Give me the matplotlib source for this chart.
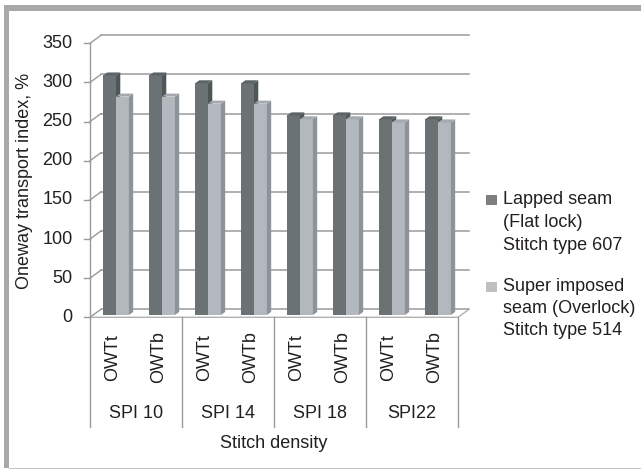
import matplotlib
matplotlib.use("Agg")
import matplotlib.pyplot as plt
from matplotlib.patches import Polygon, Rectangle
from matplotlib import transforms

plt.rcParams['font.family'] = ['Liberation Sans', 'DejaVu Sans']

# ---- data -------------------------------------------------------------
groups = ["SPI 10", "SPI 14", "SPI 18", "SPI22"]
sides = ["OWTt", "OWTb"]
lapped = [306, 306, 296, 296, 255, 255, 250, 250]          # Stitch type 607
superimposed = [279, 279, 270, 270, 250, 250, 246, 246]    # Stitch type 514
legend_labels = ["Lapped seam\n(Flat lock)\nStitch type 607",
                 "Super imposed\nseam (Overlock)\nStitch type 514"]
y_ticks = [0, 50, 100, 150, 200, 250, 300, 350]
y_label = "Oneway transport index, %"
x_label = "Stitch density"

# ---- styling ----------------------------------------------------------
TXT = '#231f20'
GRID = '#9a9a9a'
FS = 13
face = {
    'dark': ('#6b7274', '#4f5658', '#5c6365'),   # front, side, top
    'light': ('#b3b8bf', '#8e9399', '#a4a9af'),
}
legend_colors = ['#7f7f7f', '#bfbfbf']

W, H = 641, 470
fig = plt.figure(figsize=(W / 100, H / 100), dpi=100)
fig.patch.set_facecolor('white')

# front plane of the plot area, in pixels
AX_L, AX_R, AX_T, AX_B = 90, 458, 43.3, 317.3
ax = fig.add_axes([AX_L / W, 1 - AX_B / H, (AX_R - AX_L) / W, (AX_B - AX_T) / H])
n_cat = len(groups) * len(sides)
ax.set_xlim(0, n_cat)
ax.set_ylim(0, y_ticks[-1])
ax.axis('off')

px_x = (AX_R - AX_L) / n_cat
px_y = (AX_B - AX_T) / y_ticks[-1]


def dxu(px):
    return px / px_x


def dyu(px):
    return px / px_y


def fy(p):
    return 1 - p / H


BACK_X, BACK_Y = dxu(11), dyu(8)       # depth of the 3-D box
DEP_X, DEP_Y = dxu(4.3), dyu(3.0)      # depth of a column
LIFT = dyu(2.3)
BW = 0.28
X0 = 0.285

blend = transforms.blended_transform_factory(ax.transData, fig.transFigure)

# back wall gridlines and left wall diagonals
for v in y_ticks:
    ax.plot([BACK_X, n_cat + BACK_X], [v + BACK_Y, v + BACK_Y], color=GRID,
            lw=1.1, clip_on=False, zorder=1)
    ax.plot([0, BACK_X], [v, v + BACK_Y], color=GRID, lw=1.0, clip_on=False, zorder=1)
    ax.plot([-dxu(6.5), 0], [v, v], color=GRID, lw=1.0, clip_on=False, zorder=1)
    ax.text(-dxu(17.5), v, str(v), ha='right', va='center', fontsize=FS,
            color=TXT)
ax.plot([0, 0], [0, y_ticks[-1]], color=GRID, lw=1.0, clip_on=False, zorder=1)

# floor
ax.plot([0, n_cat, n_cat + BACK_X], [0, 0, BACK_Y], color='#b0b0b0', lw=1.0,
        clip_on=False, zorder=1)


def column(x, h, colors, z):
    fc, sc, tc = colors
    top = LIFT + h
    ax.bar(x, h, width=BW, bottom=LIFT, align='edge', color=fc, linewidth=0,
           zorder=z)
    side = [(x + BW, LIFT), (x + BW + DEP_X, LIFT + DEP_Y),
            (x + BW + DEP_X, top + DEP_Y), (x + BW, top)]
    cap = [(x, top), (x + DEP_X, top + DEP_Y), (x + BW + DEP_X, top + DEP_Y),
           (x + BW, top)]
    ax.add_patch(Polygon(side, closed=True, facecolor=sc, edgecolor='none',
                         zorder=z, clip_on=False))
    ax.add_patch(Polygon(cap, closed=True, facecolor=tc, edgecolor='none',
                         zorder=z, clip_on=False))


for i in range(n_cat):
    column(i + X0, lapped[i], face['dark'], 3 + 2 * i)
    column(i + X0 + BW, superimposed[i], face['light'], 4 + 2 * i)

# multi-level category axis
for g in range(len(groups) + 1):
    ax.plot([2 * g, 2 * g], [fy(AX_B), fy(427)], transform=blend, color=GRID,
            lw=1.0, clip_on=False)
for i in range(n_cat):
    ax.text(i + 0.5, fy(357.5), sides[i % 2], rotation=90, ha='center',
            va='center', transform=blend, fontsize=FS, color=TXT)
for g, name in enumerate(groups):
    ax.text(2 * g + 1, fy(414), name, ha='center', va='center', transform=blend,
            fontsize=FS, color=TXT)
ax.text(n_cat / 2, fy(443.5), x_label, ha='center', va='center', transform=blend,
        fontsize=FS, color=TXT)

fig.text(25 / W, fy(181), y_label, rotation=90, ha='center', va='center',
         fontsize=FS, color=TXT)

# legend
legend_rows = [(200, 22.5), (286.7, 21.7)]
for (y0, step), label, col in zip(legend_rows, legend_labels, legend_colors):
    fig.add_artist(Rectangle((486 / W, fy(y0 + 5)), 11 / W, 10 / H,
                             transform=fig.transFigure, facecolor=col,
                             edgecolor='none'))
    for k, line in enumerate(label.split('\n')):
        fig.text(503 / W, fy(y0 + k * step), line, ha='left', va='center',
                 fontsize=FS, color=TXT)

# chart frame
fig.add_artist(Rectangle((4 / W, fy(11)), (W - 4) / W, 6 / H,
                         transform=fig.transFigure, facecolor='#a8a8a8',
                         edgecolor='none'))
fig.add_artist(Rectangle((4 / W, fy(468)), 5 / W, (468 - 5) / H,
                         transform=fig.transFigure, facecolor='#a8a8a8',
                         edgecolor='none'))
fig.add_artist(Rectangle((9 / W, fy(469)), (W - 9) / W, 1 / H,
                         transform=fig.transFigure, facecolor='#c4c4c4',
                         edgecolor='none'))

fig.savefig('out.png', dpi=100)
